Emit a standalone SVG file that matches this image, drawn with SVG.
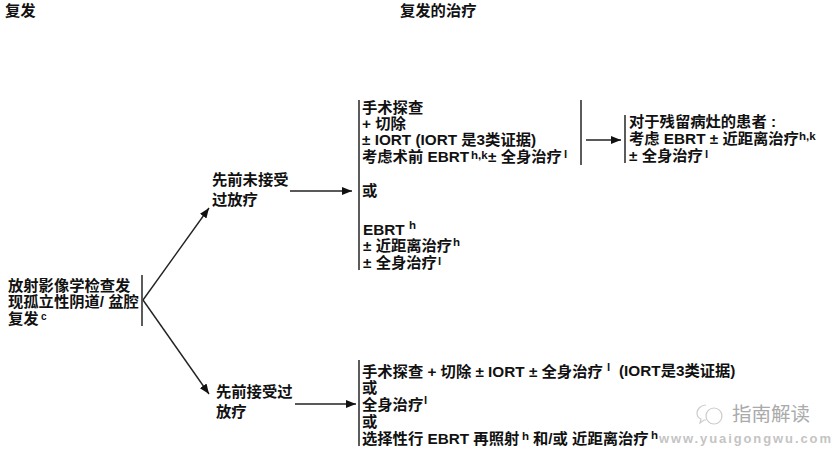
<svg xmlns="http://www.w3.org/2000/svg" width="837" height="450" viewBox="0 0 837 450">
<style>
text{font-family:"Liberation Sans","Noto Sans CJK SC",sans-serif;font-weight:700;font-size:15.3px;fill:#111}
.s{font-size:11.5px}
.c{font-size:10px}
.line{stroke:#222;stroke-width:1.4;fill:none}
.bar{stroke:#333;stroke-width:1.6;fill:none}
</style>
<defs><marker id="a" markerUnits="userSpaceOnUse" markerWidth="11" markerHeight="8" refX="10" refY="4" orient="auto"><path d="M0 0L10 4L0 8Z" fill="#111"/></marker></defs>
<rect width="837" height="450" fill="#fff"/>
<g id="headers"><text x="5" y="16">复发</text><text x="400" y="16">复发的治疗</text></g>
<g id="connectors">
<path class="line" marker-end="url(#a)" d="M143 300L209 208"/>
<path class="line" marker-end="url(#a)" d="M143 300L209 394"/>
<path class="line" marker-end="url(#a)" d="M290 191H352"/>
<path class="line" marker-end="url(#a)" d="M295 404H356"/>
<path class="line" marker-end="url(#a)" d="M586 140H621"/>
</g>
<g id="node-recurrence"><path class="bar" d="M142 275V326"/>
<text x="8" y="291">放射影像学检查发</text><text x="8" y="307">现孤立性阴道/ 盆腔</text><text x="8" y="324">复发</text><text class="c" x="41" y="320">c</text></g>
<g id="node-no-rt"><text x="212" y="185">先前未接受</text><text x="212" y="205">过放疗</text></g>
<g id="node-prior-rt"><text x="216" y="397">先前接受过</text><text x="216" y="417">放疗</text></g>
<g id="node-treatment-a"><path class="bar" d="M359 100V270"/>
<text x="362" y="113">手术探查</text><text x="362" y="129">+ 切除</text><text x="362" y="145">± IORT (IORT 是3类证据)</text><text x="362" y="162">考虑术前 EBRT</text><text class="s" x="471" y="159">h,k</text><text x="488" y="162">± 全身治疗</text><text class="s" x="564" y="158">l</text>
<text x="362" y="196">或</text>
<text x="363" y="235">EBRT</text><text class="s" x="409" y="229">h</text><text x="363" y="251">± 近距离治疗</text><text class="s" x="453" y="246">h</text><text x="363" y="268">± 全身治疗</text><text class="s" x="438" y="265">l</text></g>
<g id="node-treatment-b"><path class="bar" d="M581 100V165"/></g>
<g id="node-residual"><path class="bar" d="M625 115V163"/>
<text x="629" y="127">对于残留病灶的患者 :</text><text x="629" y="144">考虑 EBRT ± 近距离治疗</text><text class="s" x="799" y="140">h,k</text><text x="629" y="161">± 全身治疗</text><text class="s" x="705" y="158">l</text></g>
<g id="node-treatment-c"><path class="bar" d="M359 360V446"/>
<text x="362" y="377">手术探查 + 切除 ± IORT ± 全身治疗</text><text class="s" x="607" y="371">l</text><text x="619" y="376">(IORT是3类证据)</text>
<text x="362" y="393">或</text><text x="362" y="410">全身治疗</text><text class="s" x="424" y="404">l</text>
<text x="362" y="427">或</text><text x="362" y="444">选择性行 EBRT 再照射</text><text class="s" x="522" y="440">h</text><text x="533" y="444">和/或 近距离治疗</text><text class="s" x="651" y="439">h</text></g>
<g id="watermark">
<path d="M706 405c-5 0-9 4-9 8 0 3 1 5 4 6l-1 4 4-3 2 0" fill="none" stroke="#ccc" stroke-width="1.2"/>
<circle cx="714" cy="416" r="8" fill="none" stroke="#ccc" stroke-width="1.2"/>
<text x="732" y="421" style="font-size:19.5px;font-weight:400;fill:#aaa">指南解读</text>
<text x="659" y="443" style="font-size:13px;letter-spacing:1.9px;fill:#c4c4c4">www.yuaigongwu.com</text>
</g>
</svg>
